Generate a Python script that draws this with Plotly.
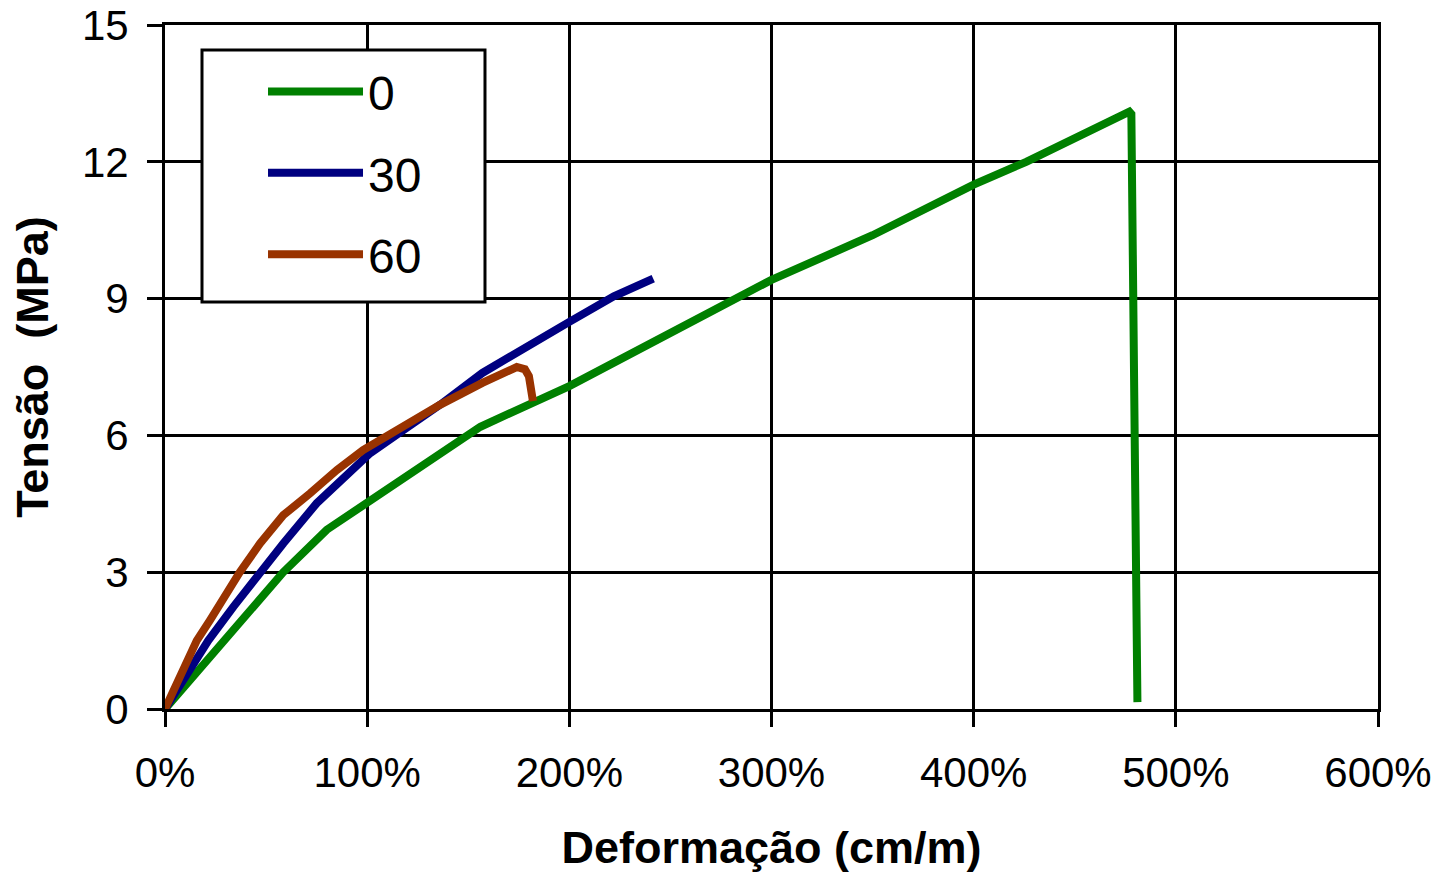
import plotly.graph_objects as go

# Deformation (fraction, 1.0 = 100%) and stress (MPa)
x_0 = [0.0, 0.288, 0.585, 0.80, 1.00, 1.18, 1.56, 2.00, 2.55, 3.00, 3.50, 4.00, 4.26, 4.50, 4.77, 4.78, 4.81]
y_0 = [0.0, 1.50, 3.00, 3.93, 4.52, 5.02, 6.19, 7.08, 8.36, 9.41, 10.39, 11.50, 12.00, 12.50, 13.10, 13.05, 0.15]

x_30 = [0.0, 0.214, 0.338, 0.47, 0.585, 0.75, 0.883, 1.015, 1.18, 1.36, 1.57, 1.74, 2.00, 2.22, 2.415]
y_30 = [0.0, 1.50, 2.24, 3.00, 3.63, 4.51, 5.09, 5.61, 6.12, 6.67, 7.37, 7.83, 8.49, 9.05, 9.44]

x_60 = [0.0, 0.099, 0.157, 0.223, 0.37, 0.47, 0.585, 0.718, 0.85, 0.98, 1.18, 1.36, 1.57, 1.74, 1.78, 1.80, 1.82]
y_60 = [0.0, 1.00, 1.50, 1.95, 3.00, 3.63, 4.25, 4.73, 5.24, 5.68, 6.19, 6.67, 7.15, 7.50, 7.45, 7.30, 6.75]

series_names = ["0", "30", "60"]
series_colors = ["#008000", "#000080", "#993300"]

x_ticks = [0, 1, 2, 3, 4, 5, 6]
y_ticks = [0, 3, 6, 9, 12, 15]

FONT = "Liberation Sans, Arial, sans-serif"

fig = go.Figure()
for name, xs, ys, col in zip(series_names, [x_0, x_30, x_60], [y_0, y_30, y_60], series_colors):
    fig.add_trace(go.Scatter(
        x=xs, y=ys, mode="lines", name=name, legendgroup=name,
        line=dict(color=col, width=8),
    ))

# legend frame
fig.add_shape(
    type="rect", xref="paper", yref="paper",
    x0=0.0305, x1=0.2638, y0=0.595, y1=0.9635,
    line=dict(color="black", width=3), fillcolor="white", layer="above",
)

fig.update_layout(
    width=1453, height=873,
    margin=dict(l=165, r=75, t=25, b=164, autoexpand=False),
    paper_bgcolor="white", plot_bgcolor="white",
    font=dict(family=FONT, color="black"),
    legend=dict(
        x=0.0808, y=0.958, xanchor="left", yanchor="top",
        borderwidth=0, bgcolor="rgba(0,0,0,0)",
        font=dict(size=48, family=FONT, color="black"),
        tracegroupgap=16, itemwidth=95,
    ),
    showlegend=True,
)
fig.update_xaxes(
    range=[0, 6], tickvals=x_ticks, tickformat=".0%",
    showgrid=True, gridcolor="black", gridwidth=3,
    showline=True, linecolor="black", linewidth=3, mirror=True,
    ticks="outside", ticklen=15, tickwidth=3, tickcolor="black",
    tickfont=dict(size=42, family=FONT), ticklabelstandoff=10,
    ticklabeloverflow="allow",
    zeroline=False, automargin=False,
    title=dict(text="<b>Deformação (cm/m)</b>", font=dict(size=45, family=FONT), standoff=37),
)
fig.update_yaxes(
    range=[0, 15], tickvals=y_ticks,
    showgrid=True, gridcolor="black", gridwidth=3,
    showline=True, linecolor="black", linewidth=3, mirror=True,
    ticks="outside", ticklen=15, tickwidth=3, tickcolor="black",
    tickfont=dict(size=42, family=FONT), ticklabelstandoff=10,
    ticklabeloverflow="allow",
    zeroline=False, automargin=False,
    title=dict(text="<b>Tensão  (MPa)</b>", font=dict(size=45, family=FONT), standoff=20),
)

fig.write_html("out.html", config={"displayModeBar": False},
               post_script="document.body.style.margin='0';")
